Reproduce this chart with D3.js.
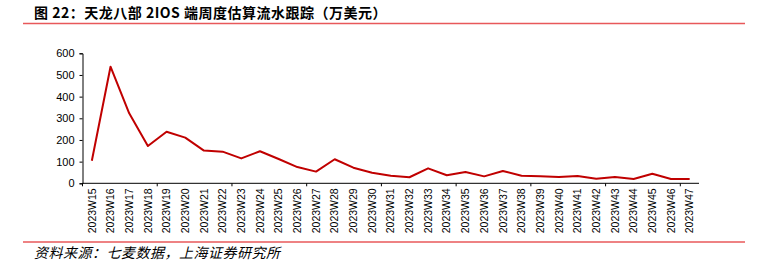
<!DOCTYPE html>
<html><head><meta charset="utf-8">
<script src="https://cdn.jsdelivr.net/npm/d3@7"></script>
<style>body{margin:0;background:#fff}svg{display:block}</style>
</head><body>
<svg id="c" width="768" height="270"></svg>
<script>
const weeks = ["2023W15","2023W16","2023W17","2023W18","2023W19","2023W20","2023W21","2023W22","2023W23","2023W24","2023W25","2023W26","2023W27","2023W28","2023W29","2023W30","2023W31","2023W32","2023W33","2023W34","2023W35","2023W36","2023W37","2023W38","2023W39","2023W40","2023W41","2023W42","2023W43","2023W44","2023W45","2023W46","2023W47"];
const revenue = [104,538,323,172,238,211,151,146,115,148,112,75,54,111,72,49,35,28,69,37,52,32,57,35,32,29,34,21,29,20,44,20,20];
const yTicks = [0,100,200,300,400,500,600];
const title = "图 22：天龙八部 2IOS 端周度估算流水跟踪（万美元）";
const source = "资料来源：七麦数据，上海证券研究所";

const svg = d3.select("#c");
const m = {l:82.5, r:699, t:53.3, b:183.3};
const x = d3.scaleBand().domain(weeks).range([m.l, m.r]);
const y = d3.scaleLinear().domain([0,600]).range([m.b, m.t]);

svg.append("text").attr("x",34).attr("y",18)
  .attr("font-family","'Noto Sans CJK SC', sans-serif").attr("font-weight","bold")
  .attr("font-size",14).attr("letter-spacing",0.5).attr("fill","#000").text(title);
svg.append("line").attr("x1",23).attr("x2",745).attr("y1",23.5).attr("y2",23.5)
  .attr("stroke","#E8585A").attr("stroke-width",1.5);
svg.append("line").attr("x1",23).attr("x2",745).attr("y1",242).attr("y2",242)
  .attr("stroke","#E8585A").attr("stroke-width",1.5);
svg.append("text").attr("x",34).attr("y",258)
  .attr("font-family","'Noto Sans CJK SC', sans-serif").attr("font-style","italic")
  .attr("font-size",14).attr("letter-spacing",0.5).attr("fill","#000")
  .text(source);

// y axis
const ya = svg.append("g").attr("transform",`translate(${m.l},0)`)
  .call(d3.axisLeft(y).tickValues(yTicks).tickSize(3).tickPadding(5));
ya.select(".domain").attr("stroke","#000");
ya.selectAll("text").attr("font-family","'Liberation Sans', Arial, sans-serif").attr("font-size",11).attr("fill","#000");

// x axis: domain + boundary ticks every 4 bands
const xa = svg.append("g").attr("transform",`translate(0,${m.b})`);
xa.append("line").attr("x1",m.l).attr("x2",m.r).attr("stroke","#000");
const bounds = d3.range(0, weeks.length, 4);
xa.selectAll("line.t").data(bounds).join("line").attr("class","t")
  .attr("x1",i=>x(weeks[i])).attr("x2",i=>x(weeks[i])).attr("y1",0).attr("y2",3).attr("stroke","#000");
xa.selectAll("text").data(weeks).join("text")
  .attr("transform",d=>`translate(${x(d)+x.bandwidth()/2},5) rotate(-90)`)
  .attr("text-anchor","end").attr("dy","0.35em")
  .attr("font-family","'Liberation Sans', Arial, sans-serif").attr("font-size",10.5).attr("fill","#000")
  .text(d=>d);

// line
svg.append("path").datum(revenue)
  .attr("fill","none").attr("stroke","#C00000").attr("stroke-width",2).attr("stroke-linejoin","round")
  .attr("d", d3.line().x((d,i)=>x(weeks[i])+x.bandwidth()/2).y(d=>y(d)));
</script>
</body></html>
